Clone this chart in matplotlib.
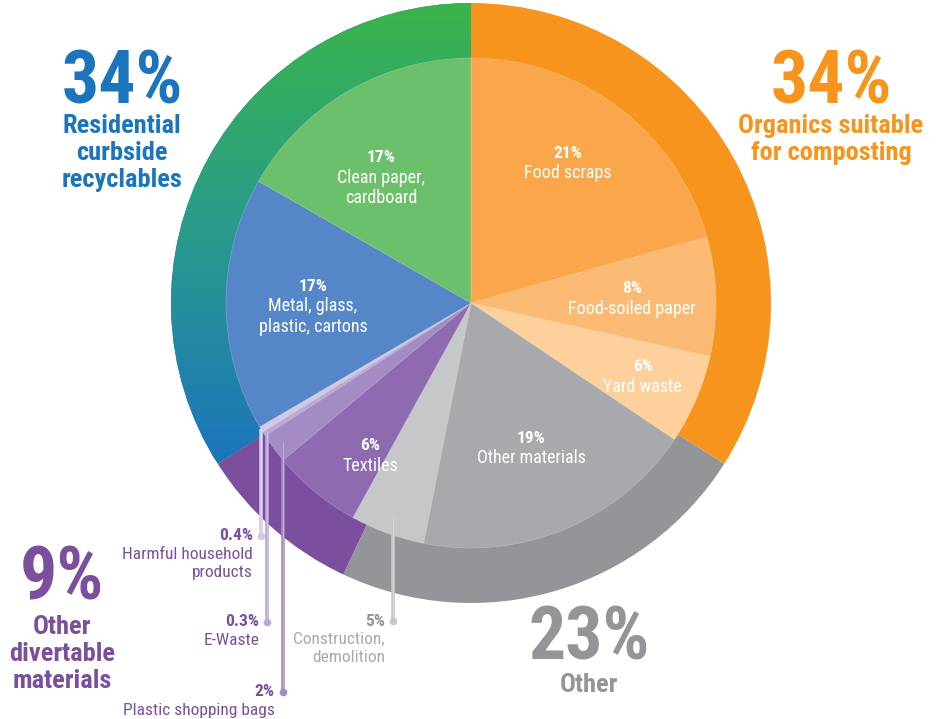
import matplotlib.pyplot as plt
import numpy as np
from matplotlib import font_manager as fm
from matplotlib.colors import LinearSegmentedColormap

# outer ring: main groups
groups = ['Organics suitable\nfor composting', 'Other', 'Other\ndivertable\nmaterials',
          'Residential\ncurbside\nrecyclables']
group_pct = [34, 23, 9, 34]
group_colors = ['#F7941D', '#939598', '#7B4F9E', '#1C75BC']

# inner pie: material breakdown, clockwise from 12 o'clock
items = ['Food scraps', 'Food-soiled paper', 'Yard waste', 'Other materials',
         'Construction,\ndemolition', 'Textiles', 'Plastic shopping bags', 'E-Waste',
         'Harmful household\nproducts', 'Metal, glass,\nplastic, cartons', 'Clean paper,\ncardboard']
item_pct = [21, 8, 6, 19, 5, 6, 2, 0.3, 0.4, 17, 17]
item_colors = ['#F9A74A', '#FBBA74', '#FDD09C', '#A7A9AC', '#C6C7C9', '#8E6BB0',
               '#A58BC4', '#BBA8D5', '#D4C8E5', '#5587C8', '#6CC06B']

W, H = 941, 719
cx, cy = 471, H - 303
R_OUT, R_IN = 300, 245

# pick a condensed sans if one is around
fonts = fm.fontManager.ttflist
names = {f.name for f in fonts}
family = None
for cand in ['Liberation Sans Narrow', 'Roboto Condensed', 'Open Sans Condensed',
             'DejaVu Sans Condensed']:
    if cand in names:
        family = cand
        break
if family is None:
    if any(f.name == 'DejaVu Sans' and f.stretch == 'condensed' for f in fonts):
        family = 'DejaVu Sans'
        plt.rcParams['font.stretch'] = 'condensed'
    elif any(f.name == 'Roboto' and f.stretch == 'condensed' for f in fonts):
        family = 'Roboto'
        plt.rcParams['font.stretch'] = 'condensed'
    else:
        family = 'Liberation Sans'
plt.rcParams['font.family'] = [family, 'DejaVu Sans']

fig = plt.figure(figsize=(9.41, 7.19), dpi=100)
ax = fig.add_axes([0, 0, 1, 1])

outer, _ = ax.pie(group_pct, radius=R_OUT, center=(cx, cy), startangle=90,
                  counterclock=False, colors=group_colors,
                  wedgeprops=dict(linewidth=0))
inner, _ = ax.pie(item_pct, radius=R_IN, center=(cx, cy), startangle=90,
                  counterclock=False, colors=item_colors,
                  wedgeprops=dict(linewidth=0.5, edgecolor=(1, 1, 1, 0.25)))
for w in inner:
    w.set_zorder(3)

# green -> blue gradient on the recyclables ring (top green, bottom blue)
cmap = LinearSegmentedColormap.from_list('rec', ['#3AB54A', '#2A9A8C', '#1C75BC'])
grad = np.linspace(0, 1, 256).reshape(-1, 1)
img = ax.imshow(grad, cmap=cmap, aspect='auto', zorder=2,
                extent=(cx - R_OUT, cx + R_OUT, H - 460, H - 2))
img.set_clip_path(outer[3])

ax.set_xlim(0, W)
ax.set_ylim(0, H)
ax.set_aspect('equal')
ax.axis('off')


def mid_angle(w):
    return np.deg2rad((w.theta1 + w.theta2) / 2)


# labels inside the inner pie
label_r = {0: 170, 1: 161, 2: 187, 3: 157, 5: 183, 9: 158, 10: 154}
label_nudge = {0: 2.5, 1: 0, 2: 0, 3: 0, 5: 6, 9: 1, 10: 5.5}
LH = 20
for i, w in enumerate(inner):
    if i not in label_r:
        continue
    a = mid_angle(w) + np.deg2rad(label_nudge[i])
    x0 = cx + label_r[i] * np.cos(a)
    y0 = cy + label_r[i] * np.sin(a)
    m = items[i].count('\n') + 1
    py = y0 + m / 2 * LH
    ax.text(x0, py, f'{item_pct[i]:g}%', color='white', fontsize=12.5,
            fontweight='bold', ha='center', va='center', zorder=5)
    ax.text(x0, py - LH * (1 + (m - 1) / 2), items[i], color='white', fontsize=13,
            ha='center', va='center', linespacing=1.15, zorder=5)

# leader lines for the small slices
callouts = {8: (245, 536, '#7B4F9E'), 7: (241, 622, '#7B4F9E'),
            6: (234, 692, '#7B4F9E'), 4: (228, 621, '#939598')}
for i, (r, ly, tc) in callouts.items():
    a = mid_angle(inner[i])
    x = cx + r * np.cos(a)
    y = cy + r * np.sin(a)
    ax.plot([x, x], [y, H - ly], color=item_colors[i], lw=2.6, zorder=4,
            solid_capstyle='butt')
    ax.plot([x, x], [y, H - ly], color='#FFFFFF', lw=0.6, alpha=0.35, zorder=4)
    ax.plot(x, H - ly, 'o', ms=5.5, color=item_colors[i], mec='none', zorder=4)
    ax.text(x - 8, H - ly, f'{item_pct[i]:g}%', color=tc, fontsize=12.5,
            fontweight='bold', ha='right', va='center', zorder=5)
    ax.text(x - 8, H - ly - 11, items[i], color=tc if tc != '#939598' else '#A7A9AC',
            fontsize=12.5, ha='right', va='top', linespacing=1.25, zorder=5)

# group headings
heads = [(831, 77, 126), (589, 633, 685), (62, 574, 627), (122, 77, 126)]
for g, pct, col, (hx, hy, ty) in zip(groups, group_pct, group_colors, heads):
    ax.text(hx, H - hy - 6, f'{pct}%', color=col, fontsize=53, fontweight='bold',
            ha='center', va='center')
    ax.text(hx, H - ty + 12, g, color=col, fontsize=19, fontweight='bold',
            ha='center', va='top', linespacing=1.15)

fig.savefig('out.png', dpi=100)
